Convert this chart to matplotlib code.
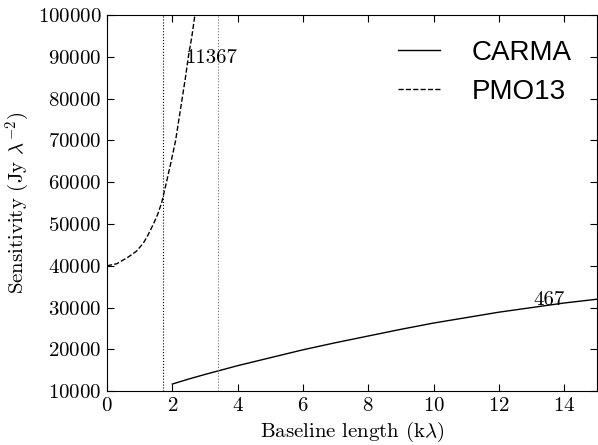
"""
Sensitivity vs baseline length for CARMA and PMO13.
"""
import matplotlib
matplotlib.use("Agg")
import matplotlib.pyplot as plt

plt.rcParams["font.family"] = "serif"
plt.rcParams["font.serif"] = ["cmr10"]
plt.rcParams["mathtext.fontset"] = "cm"
plt.rcParams["axes.formatter.use_mathtext"] = True

carma_x = [2, 2.5, 3, 4, 5, 6, 7, 8, 9, 10, 11, 12, 13, 14, 15]
carma_y = [11700, 12900, 14000, 16100, 18000, 19900, 21600, 23200, 24800,
           26300, 27600, 28900, 30000, 31100, 32000]

pmo_x = [0, 0.3, 0.65, 0.9, 1.11, 1.25, 1.42, 1.55, 1.67, 1.82, 1.95,
         2.10, 2.2, 2.30, 2.4, 2.49, 2.6, 2.69, 2.8]
pmo_y = [40000, 40500, 42100, 43500, 45400, 47300, 50000, 52300, 55000,
         60000, 64500, 70000, 75000, 80000, 85000, 90000, 95000, 100000,
         105000]

vlines = [1.71, 3.39]
labels = [(2.39, 88600, "11367"), (13.07, 30600, "467")]

fig = plt.figure(figsize=(5.98, 4.45), dpi=100)
ax = fig.add_axes([0.179, 0.121, 0.819, 0.845])

ax.plot(carma_x, carma_y, "k-", lw=1.0, label="CARMA")
ax.plot(pmo_x, pmo_y, "k--", lw=1.0, label="PMO13")
ax.axvline(vlines[0], color="k", ls=":", lw=0.8)
ax.axvline(vlines[1], color="0.45", ls=":", lw=0.8)
for x, y, s in labels:
    ax.text(x, y, s, fontsize=15)

ax.set_xlim(0, 15)
ax.set_ylim(10000, 100000)
ax.set_xticks([0, 2, 4, 6, 8, 10, 12, 14])
ax.set_yticks(range(10000, 100001, 10000))
ax.tick_params(direction="in", top=True, right=True, labelsize=15,
               length=5, pad=4)
ax.set_xlabel(r"Baseline length (k$\lambda$)", fontsize=15)
ax.set_ylabel(r"Sensitivity (Jy $\lambda^{-2}$)", fontsize=15)

leg = ax.legend(loc="upper right", frameon=False,
                prop={"family": "Liberation Sans", "size": 20},
                handlelength=1.5, handletextpad=1.15, labelspacing=0.45)

fig.savefig("out.png", dpi=100)
